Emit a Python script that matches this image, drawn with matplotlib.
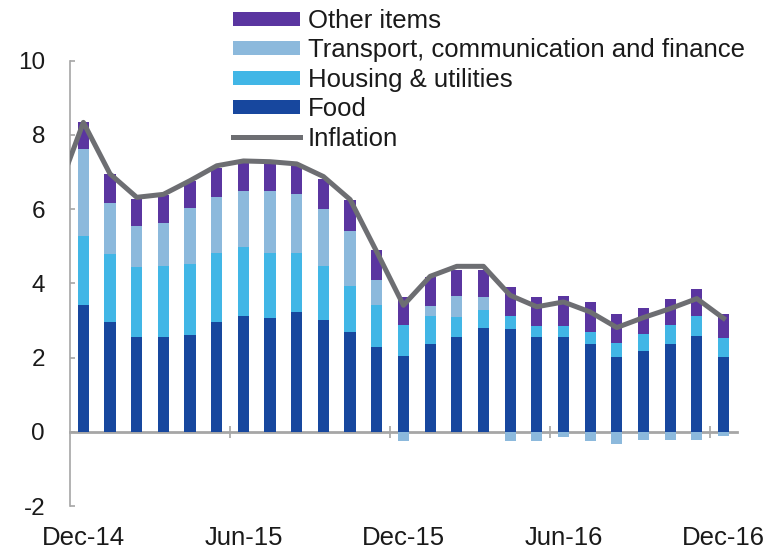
import numpy as np
import matplotlib.pyplot as plt

plt.rcParams['font.family'] = ['Liberation Sans', 'DejaVu Sans']
plt.rcParams['axes.unicode_minus'] = False

months = ['Dec-14', 'Jan-15', 'Feb-15', 'Mar-15', 'Apr-15', 'May-15', 'Jun-15',
          'Jul-15', 'Aug-15', 'Sep-15', 'Oct-15', 'Nov-15', 'Dec-15', 'Jan-16',
          'Feb-16', 'Mar-16', 'Apr-16', 'May-16', 'Jun-16', 'Jul-16', 'Aug-16',
          'Sep-16', 'Oct-16', 'Nov-16', 'Dec-16']
tick_labels = ['Dec-14', 'Jun-15', 'Dec-15', 'Jun-16', 'Dec-16']

food = [3.43, 2.95, 2.56, 2.55, 2.61, 2.95, 3.11, 3.06, 3.22, 3.01, 2.70, 2.29,
        2.04, 2.36, 2.56, 2.81, 2.76, 2.55, 2.56, 2.38, 2.01, 2.18, 2.37, 2.58, 2.01]
housing = [1.85, 1.83, 1.88, 1.91, 1.91, 1.88, 1.87, 1.77, 1.60, 1.45, 1.22, 1.14,
           0.85, 0.76, 0.54, 0.47, 0.36, 0.30, 0.29, 0.32, 0.39, 0.45, 0.52, 0.54, 0.51]
transport = [2.33, 1.39, 1.10, 1.18, 1.51, 1.51, 1.50, 1.67, 1.58, 1.54, 1.49, 0.66,
             -0.26, 0.27, 0.56, 0.36, -0.26, -0.26, -0.13, -0.24, -0.32, -0.23, -0.23, -0.23, -0.11]
other = [0.73, 0.78, 0.74, 0.73, 0.73, 0.77, 0.80, 0.78, 0.78, 0.82, 0.83, 0.80,
         0.75, 0.79, 0.71, 0.73, 0.79, 0.79, 0.81, 0.80, 0.77, 0.71, 0.70, 0.74, 0.65]
# inflation starts one month earlier (Nov-14), clipped at the left edge
inflation = [6.4, 8.34, 6.95, 6.32, 6.40, 6.77, 7.17, 7.30, 7.28, 7.22, 6.88, 6.26, 4.85,
             3.41, 4.19, 4.46, 4.46, 3.68, 3.37, 3.50, 3.23, 2.81, 3.08, 3.32, 3.59, 3.06]

c_food = '#17479e'
c_housing = '#41b6e6'
c_transport = '#8cb9dc'
c_other = '#5a35a0'
c_line = '#6d6e72'
c_axis = '#a6a6a6'

x = np.arange(len(months))
food = np.array(food)
housing = np.array(housing)
transport = np.array(transport)
other = np.array(other)

fig = plt.figure(figsize=(7.79, 5.49), dpi=100)
ax = fig.add_axes([0.0899, 0.0783, 0.856, 0.811])

w = 0.42
tr_pos = np.clip(transport, 0, None)
ax.bar(x, food, w, color=c_food, label='Food', zorder=2)
ax.bar(x, housing, w, bottom=food, color=c_housing, label='Housing & utilities', zorder=2)
ax.bar(x, transport, w, bottom=np.where(transport > 0, food + housing, 0),
       color=c_transport, label='Transport, communication and finance', zorder=2)
ax.bar(x, other, w, bottom=food + housing + tr_pos, color=c_other, label='Other items', zorder=2)
ax.plot(np.arange(-1, len(months)), inflation, color=c_line, lw=3.6,
        solid_joinstyle='round', label='Inflation', zorder=3)

ax.set_xlim(-0.5, len(months) - 0.5)
ax.set_ylim(-2, 10)
ax.set_yticks(range(-2, 11, 2))
ax.set_xticks([months.index(t) for t in tick_labels])
ax.set_xticklabels(tick_labels)

for s in ['top', 'right', 'bottom']:
    ax.spines[s].set_visible(False)
ax.spines['left'].set_color(c_axis)
ax.spines['left'].set_linewidth(1.2)
ax.tick_params(axis='y', direction='in', length=3.5, width=1.2, color=c_axis,
               labelsize=17.5, pad=18, labelcolor='#1a1a1a')
ax.tick_params(axis='x', length=0, labelsize=18.5, pad=14.5, labelcolor='#1a1a1a')

# horizontal axis line at zero with category-boundary ticks
zero_ax = ax.secondary_xaxis(2 / 12)
zero_ax.spines['bottom'].set_color(c_axis)
zero_ax.spines['bottom'].set_linewidth(2)
zero_ax.set_xticks([5.5, 11.5, 17.5, 23.5])
zero_ax.set_xticklabels([])
zero_ax.tick_params(direction='inout', length=9, width=1.2, color=c_axis)

h, l = ax.get_legend_handles_labels()
order = ['Other items', 'Transport, communication and finance',
         'Housing & utilities', 'Food', 'Inflation']
hd = dict(zip(l, h))
fig.legend([hd[k] for k in order], order, loc='upper left',
           bbox_to_anchor=(233 / 779, 1 - 9 / 549), frameon=False, fontsize=18.5,
           handlelength=2.6, handleheight=0.48, handletextpad=0.32,
           labelspacing=0.21, borderpad=0, borderaxespad=0, labelcolor='#1a1a1a')

fig.savefig('out.png', dpi=100)
